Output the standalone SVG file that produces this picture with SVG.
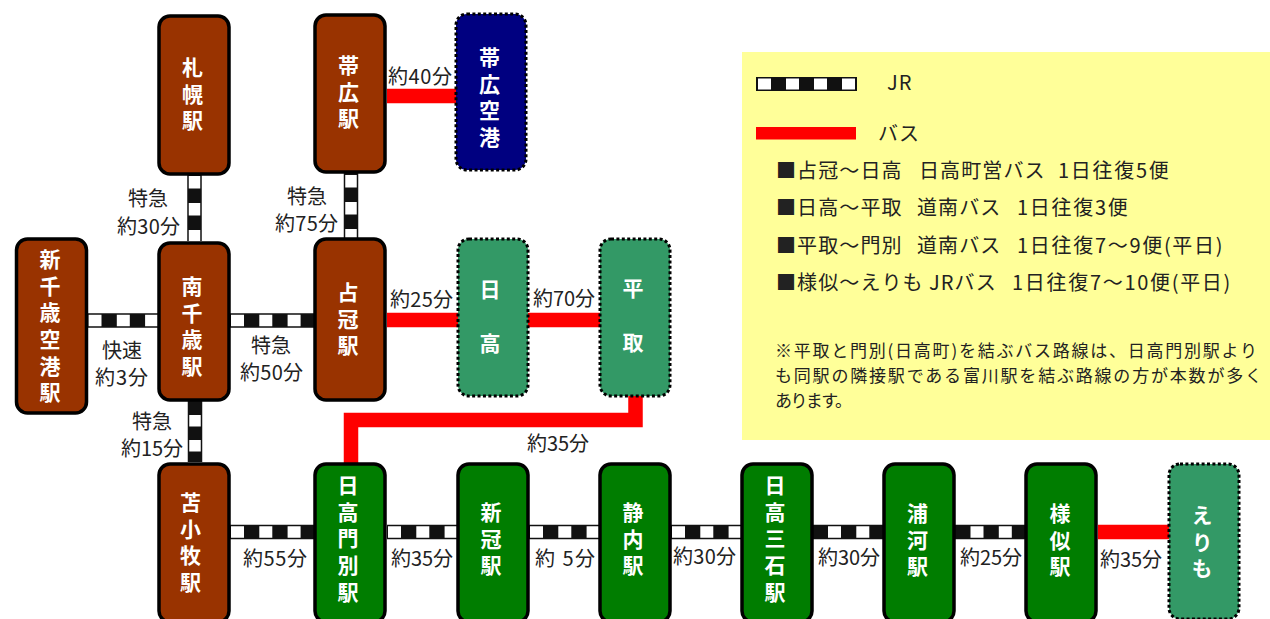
<svg xmlns="http://www.w3.org/2000/svg" width="1270" height="619" viewBox="0 0 1270 619">
<style>
text{font-family:"Noto Sans CJK JP","Liberation Sans",sans-serif;fill:#222}
.n rect{stroke:#000;stroke-width:3.5}
.b rect{fill:#993300}
.g rect{fill:#007d00}
.d rect{stroke-width:3;stroke-dasharray:3 2.4}
.t rect{fill:#339966}
.v rect{fill:#000080}
.n text{fill:#fff;font-size:21px;font-weight:700;letter-spacing:5.7px;writing-mode:vertical-rl;text-orientation:upright}
.n text.w{letter-spacing:33px}
.l{font-size:20px;text-anchor:middle}
.m{font-size:20px;letter-spacing:1.1px}
.m .e{letter-spacing:1.7px}
.s{font-size:17px}
.bus{fill:none;stroke:#f00;stroke-width:14.5}
.jb{fill:none;stroke:#111;stroke-width:14.5}
.jw{fill:none;stroke:#fff;stroke-width:11.5;stroke-dasharray:13 15.3}
</style>
<rect x="742" y="52" width="528" height="388" fill="#ffff99"/>
<g id="connectors">
<path class="jb" d="M194.5 175V241M351 173V238M88 320.5H158M230 320.5H315M195 401V462M230 532H315M387 532H457M529 532H599M671 532H741M813 532H883M955 532H1025"/>
<path class="jw" d="M88.500 320.500H158M231 320.500H315M231 532H315M388 532H457M530 532H599M672 532H741M828 532H883M970.500 532H1025"/>
<path class="jw" style="stroke-dasharray:12.500 14.500" d="M194.500 176V241M351 175V238"/>
<path class="jw" style="stroke-dasharray:11.500 13.500" d="M195 415V462"/>
<path class="bus" d="M387 96H456M387 320H600M1098 532H1169M351 464V420H635.500V396"/>
</g>
<g id="legend">
<rect x="756" y="77" width="101" height="14" fill="#111"/>
<path d="M758 84H857" stroke="#fff" stroke-width="11" stroke-dasharray="13 15"/>
<rect x="756" y="127" width="100" height="12.500" fill="#f00"/>
<text class="m" x="887" y="90">JR</text>
<text class="m" x="878" y="141">バス</text>
<text class="m" y="178"><tspan x="776">■占冠〜日高</tspan><tspan x="919">日高町営バス</tspan><tspan class="e" x="1058">1日往復5便</tspan></text>
<text class="m" y="215"><tspan x="776">■日高〜平取</tspan><tspan x="917">道南バス</tspan><tspan class="e" x="1017">1日往復3便</tspan></text>
<text class="m" y="253"><tspan x="776">■平取〜門別</tspan><tspan x="917">道南バス</tspan><tspan class="e" x="1017">1日往復7〜9便(平日)</tspan></text>
<text class="m" y="290"><tspan x="776">■様似〜えりも</tspan><tspan x="929">JRバス</tspan><tspan class="e" x="1012">1日往復7〜10便(平日)</tspan></text>
<text class="s" x="775" y="357" textLength="482">※平取と門別(日高町)を結ぶバス路線は、日高門別駅より</text>
<text class="s" x="775" y="382" textLength="487">も同駅の隣接駅である富川駅を結ぶ路線の方が本数が多く</text>
<text class="s" x="775" y="407" textLength="77">あります。</text>
</g>
<g id="labels">
<text class="l" x="148" y="206">特急</text>
<text class="l" x="148.500" y="234" textLength="63">約30分</text>
<text class="l" x="307" y="204">特急</text>
<text class="l" x="306.500" y="231" textLength="63">約75分</text>
<text class="l" x="420" y="84" textLength="64">約40分</text>
<text class="l" x="421.500" y="307" textLength="63">約25分</text>
<text class="l" x="564" y="306" textLength="62">約70分</text>
<text class="l" x="122" y="358">快速</text>
<text class="l" x="121.500" y="385" textLength="53">約3分</text>
<text class="l" x="271" y="353">特急</text>
<text class="l" x="271.500" y="380" textLength="63">約50分</text>
<text class="l" x="152" y="429">特急</text>
<text class="l" x="152" y="456" textLength="62">約15分</text>
<text class="l" x="558" y="451" textLength="62">約35分</text>
<text class="l" x="275" y="566" textLength="64">約55分</text>
<text class="l" x="422" y="566" textLength="62">約35分</text>
<text class="l" x="565" y="566" textLength="60">約 5分</text>
<text class="l" x="704.500" y="564" textLength="63">約30分</text>
<text class="l" x="849" y="565" textLength="62">約30分</text>
<text class="l" x="991" y="565" textLength="62">約25分</text>
<text class="l" x="1131" y="567" textLength="62">約35分</text>
</g>
<g id="n-sapporo" class="n b"><rect x="159" y="16" width="70" height="158" rx="11"/><text x="192.500" y="56.500">札幌駅</text></g>
<g id="n-obihiro" class="n b"><rect x="315" y="15" width="70" height="157" rx="11"/><text x="348.500" y="54.500">帯広駅</text></g>
<g id="n-obihiro-ap" class="n v d"><rect x="456" y="14" width="70" height="156" rx="11"/><text x="489.500" y="46.500">帯広空港</text></g>
<g id="n-shinchitose" class="n b"><rect x="16.500" y="239" width="70" height="174" rx="11"/><text x="50" y="248.500">新千歳空港駅</text></g>
<g id="n-minamichitose" class="n b"><rect x="159" y="243" width="70" height="157" rx="11"/><text x="192" y="275.500">南千歳駅</text></g>
<g id="n-shimukappu" class="n b"><rect x="315" y="239" width="70" height="161" rx="11"/><text x="348" y="281.500">占冠駅</text></g>
<g id="n-hidaka" class="n t d"><rect x="458" y="239" width="70" height="157" rx="11"/><text class="w" x="490" y="278.500">日高</text></g>
<g id="n-biratori" class="n t d"><rect x="600" y="239" width="70" height="157" rx="11"/><text class="w" x="633" y="277.500">平取</text></g>
<g id="n-tomakomai" class="n b"><rect x="159" y="464" width="70" height="158" rx="11"/><text x="190.500" y="491.500">苫小牧駅</text></g>
<g id="n-hidakamonbetsu" class="n g"><rect x="315" y="464" width="70" height="158" rx="11"/><text x="348" y="474.500">日高門別駅</text></g>
<g id="n-niikappu" class="n g"><rect x="458" y="464" width="70" height="158" rx="11"/><text x="491" y="501.500">新冠駅</text></g>
<g id="n-shizunai" class="n g"><rect x="600" y="464" width="70" height="158" rx="11"/><text x="633" y="501.500">静内駅</text></g>
<g id="n-mitsuishi" class="n g"><rect x="742" y="464" width="70" height="158" rx="11"/><text x="775" y="474.500">日高三石駅</text></g>
<g id="n-urakawa" class="n g"><rect x="884" y="464" width="70" height="158" rx="11"/><text x="917.500" y="502.500">浦河駅</text></g>
<g id="n-samani" class="n g"><rect x="1026" y="464" width="70" height="158" rx="11"/><text x="1060" y="502.500">様似駅</text></g>
<g id="n-erimo" class="n t d"><rect x="1169" y="464" width="70" height="155" rx="11"/><text x="1202" y="504.500">えりも</text></g>
</svg>
